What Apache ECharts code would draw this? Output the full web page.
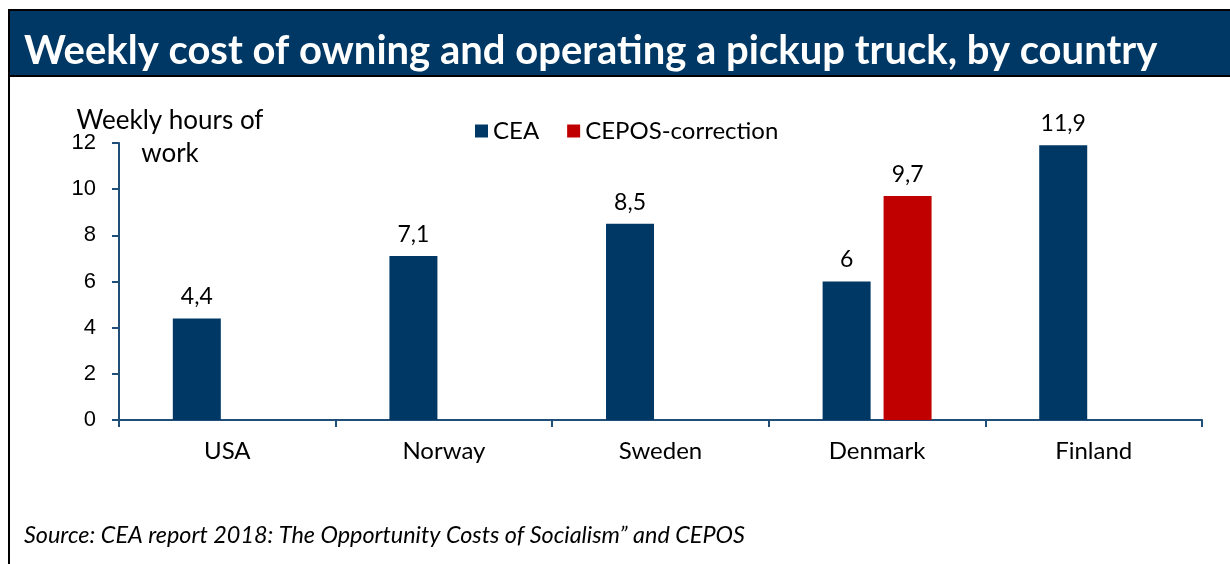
<!DOCTYPE html>
<html><head><meta charset="utf-8">
<script src="https://cdn.jsdelivr.net/npm/echarts@6/dist/echarts.min.js"></script>
<style>html,body{margin:0;padding:0;background:#fff}#c{width:1230px;height:564px}</style>
</head><body><div id="c"></div>
<script>
const categories = ['USA', 'Norway', 'Sweden', 'Denmark', 'Finland'];
const ceaValues = [4.4, 7.1, 8.5, 6, 11.9];
const ceposValues = [null, null, null, 9.7, null];
const seriesNames = ['CEA', 'CEPOS-correction'];
const yTicks = { min: 0, max: 12, interval: 2 };
const titleText = 'Weekly cost of owning and operating a pickup truck, by country';
const yAxisTitle = 'Weekly hours of\nwork';
const sourceText = 'Source: CEA report 2018: The Opportunity Costs of Socialism\u201d and CEPOS';

const navy = '#003865';
const red = '#C00000';
const axisColor = '#1F4E79';
const fmt = p => (p.value == null ? '' : String(p.value).replace('.', ','));

const chart = echarts.init(document.getElementById('c'), null, { renderer: 'canvas' });
chart.setOption({
  animation: false,
  textStyle: { fontFamily: 'Lato' },
  graphic: [
    { type: 'rect', shape: { x: 9, y: 10, width: 1225, height: 66 }, style: { fill: navy, stroke: '#000', lineWidth: 2 }, z: 0 },
    { type: 'line', shape: { x1: 9, y1: 10, x2: 9, y2: 570 }, style: { stroke: '#000', lineWidth: 2 } },
    { type: 'text', left: 24, top: 31, style: { text: titleText, fill: '#fff', font: 'bold 40px Lato' } },
    { type: 'text', x: 170, y: 104, style: { text: yAxisTitle, fill: '#000', font: '26px Lato', align: 'center', lineHeight: 33 } },
    { type: 'text', left: 24, top: 524, style: { text: sourceText, fill: '#000', font: 'italic 23.4px Lato' } }
  ],
  legend: {
    top: 114, left: 470, icon: 'rect', itemWidth: 13, itemHeight: 13, itemGap: 28,
    textStyle: { fontFamily: 'Lato', fontSize: 24, color: '#000' },
    data: seriesNames
  },
  grid: { left: 119, right: 28, top: 143, bottom: 144, containLabel: false },
  xAxis: {
    type: 'category', data: categories,
    axisLine: { lineStyle: { color: axisColor, width: 2 } },
    axisTick: { show: true, length: 7, lineStyle: { color: axisColor, width: 2 } },
    axisLabel: { margin: 19, fontFamily: 'Lato', fontSize: 24, color: '#000' }
  },
  yAxis: {
    type: 'value', min: yTicks.min, max: yTicks.max, interval: yTicks.interval,
    axisLine: { show: true, lineStyle: { color: axisColor, width: 2 } },
    axisTick: { show: true, length: 7, lineStyle: { color: axisColor, width: 2 } },
    splitLine: { show: false },
    axisLabel: { margin: 23, fontFamily: 'Liberation Sans', fontSize: 22, color: '#000' }
  },
  series: [
    { name: seriesNames[0], type: 'bar', data: ceaValues, barWidth: 48, barGap: '27%', itemStyle: { color: navy },
      label: { show: true, position: 'top', distance: 10, formatter: fmt, fontFamily: 'Lato', fontSize: 23, color: '#000' } },
    { name: seriesNames[1], type: 'bar', data: ceposValues, barWidth: 48, barGap: '27%', itemStyle: { color: red },
      label: { show: true, position: 'top', distance: 10, formatter: fmt, fontFamily: 'Lato', fontSize: 23, color: '#000' } }
  ]
});
</script></body></html>
